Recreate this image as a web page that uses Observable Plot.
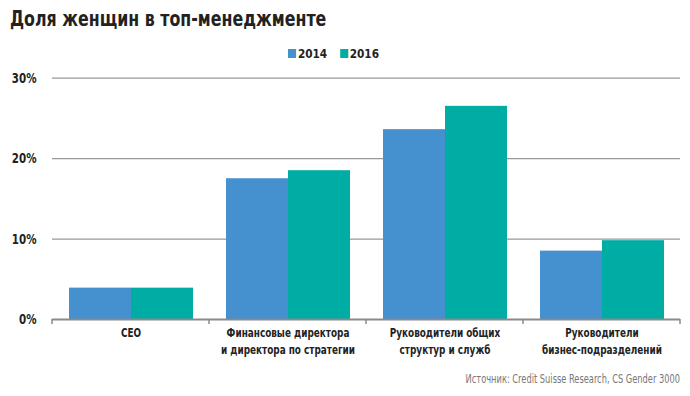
<!DOCTYPE html>
<html><head><meta charset="utf-8">
<script src="https://cdn.jsdelivr.net/npm/d3@7"></script>
<script src="https://cdn.jsdelivr.net/npm/@observablehq/plot@0.6"></script>
<style>
body{margin:0;background:#fff;width:690px;height:396px;position:relative;overflow:hidden;font-family:"DejaVu Sans Condensed","DejaVu Sans",sans-serif;}
#title{position:absolute;left:10px;top:6px;font-size:22px;font-weight:bold;color:#222;transform:scaleX(0.8);transform-origin:left top;white-space:nowrap;}
#legend{position:absolute;left:288px;top:46px;font-size:13px;font-weight:bold;color:#222;display:flex;gap:14px;transform:scaleX(0.9);transform-origin:left top;}
#legend span.sw{display:inline-block;width:9px;height:9px;margin-right:2px;vertical-align:0px;}
#chart{position:absolute;left:0;top:60px;}
#caption{position:absolute;right:10px;top:372px;font-size:11.5px;color:#777;transform:scaleX(0.8);transform-origin:right top;white-space:nowrap;}
</style></head>
<body>
<div id="title">Доля женщин в топ-менеджменте</div>
<div id="legend"></div>
<div id="chart"></div>
<div id="caption">Источник: Credit Suisse Research, CS Gender 3000</div>
<script>
const categories = ["CEO", "Финансовые директора\nи директора по стратегии", "Руководители общих\nструктур и служб", "Руководители\nбизнес-подразделений"];
const years = ["2014", "2016"];
const values2014 = [3.9, 17.5, 23.6, 8.5];
const values2016 = [3.9, 18.5, 26.5, 9.8];
const yTicks = [0, 10, 20, 30];
const colors = ["#4590cf", "#00ada5"];

const data = [];
categories.forEach((c, i) => {
  data.push({cat: c, year: years[0], value: values2014[i]});
  data.push({cat: c, year: years[1], value: values2016[i]});
});

const legend = document.getElementById("legend");
years.forEach((y, i) => {
  const d = document.createElement("div");
  d.innerHTML = `<span class="sw" style="background:${colors[i]}"></span>${y}`;
  legend.appendChild(d);
});

const font = '"DejaVu Sans Condensed","DejaVu Sans",sans-serif';
const plot = Plot.plot({
  width: 690,
  height: 304,
  marginTop: 17.7,
  marginBottom: 45,
  marginLeft: 52,
  marginRight: 10,
  style: {fontFamily: font, fontSize: "12.5px", fontWeight: "bold", color: "#222", background: "#fff"},
  fx: {domain: categories, padding: 0, label: null},
  x: {domain: years, paddingInner: 0, paddingOuter: 0.25, axis: null},
  y: {domain: [0, 30], label: null},
  color: {domain: years, range: colors},
  marks: [
    Plot.gridY(yTicks, {stroke: "#999", strokeOpacity: 1, strokeWidth: 1.2}),
    Plot.barY(data, {fx: "cat", x: "year", y: "value", fill: "year"}),
    Plot.ruleY([0], {stroke: "#8a8a8a", strokeWidth: 2}),
    Plot.axisY(yTicks, {tickSize: 0, tickPadding: 16, tickFormat: d => d + "%", fontSize: 14, fontWeight: "bold"}),
    Plot.axisFx({anchor: "bottom", tickSize: 0, tickPadding: 6, lineHeight: 1.28, fontSize: 13, fontWeight: "bold", label: null})
  ]
});
document.getElementById("chart").appendChild(plot);

// condense axis label glyphs horizontally to mimic the narrow typeface
d3.select(plot).selectAll('g[aria-label="fx-axis tick label"] text')
  .attr("transform", function() { return (this.getAttribute("transform") || "") + " scale(0.76,1)"; });
d3.select(plot).selectAll('g[aria-label="y-axis tick label"] text')
  .attr("transform", function() { return (this.getAttribute("transform") || "") + " scale(0.82,1)"; });

// boundary ticks on baseline, placed via the fx and y scales
const fx = plot.scale("fx");
const y = plot.scale("y");
const y0 = y.apply(0);
const edges = categories.map(c => fx.apply(c)).concat([fx.apply(categories[categories.length - 1]) + fx.bandwidth]);
d3.select(plot).append("g")
  .selectAll("line").data(edges).join("line")
  .attr("x1", d => d).attr("x2", d => d)
  .attr("y1", y0).attr("y2", y0 + 5)
  .attr("stroke", "#8a8a8a").attr("stroke-width", 1.5);
</script>
</body></html>
